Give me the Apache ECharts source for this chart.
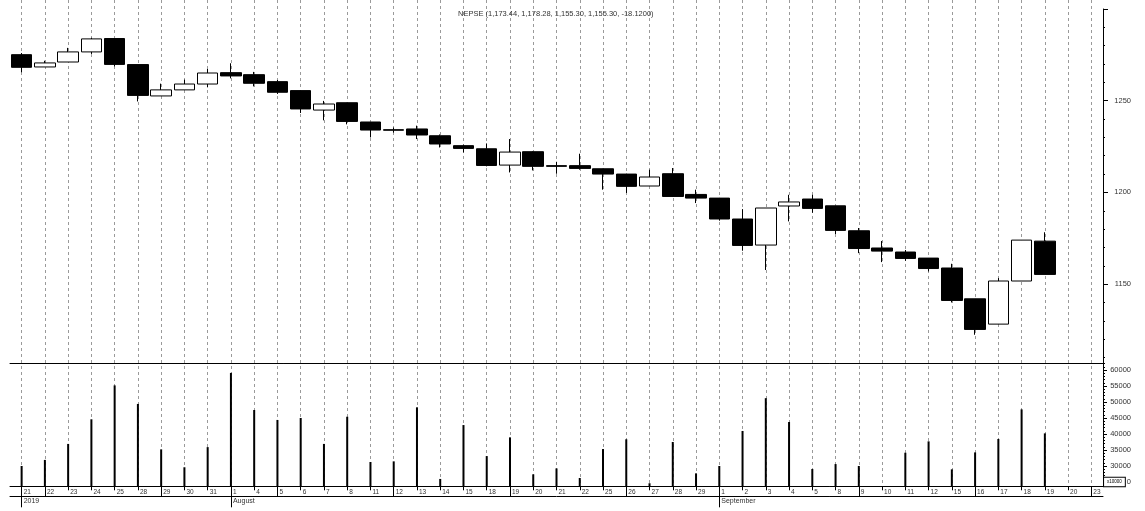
<!DOCTYPE html>
<html>
<head>
<meta charset="utf-8">
<style>
html,body{margin:0;padding:0;background:#fff;}
#chart{width:1145px;height:511px;}
</style>
<script src="https://cdn.jsdelivr.net/npm/echarts@6/dist/echarts.min.js"></script>
</head>
<body>
<div id="chart"></div>
<script>
const dates = ['2019-07-21','2019-07-22','2019-07-23','2019-07-24','2019-07-25','2019-07-28','2019-07-29','2019-07-30','2019-07-31',
  '2019-08-01','2019-08-04','2019-08-05','2019-08-06','2019-08-07','2019-08-08','2019-08-11','2019-08-12','2019-08-13','2019-08-14','2019-08-15',
  '2019-08-18','2019-08-19','2019-08-20','2019-08-21','2019-08-22','2019-08-25','2019-08-26','2019-08-27','2019-08-28','2019-08-29',
  '2019-09-01','2019-09-02','2019-09-03','2019-09-04','2019-09-05','2019-09-08','2019-09-09','2019-09-10','2019-09-11','2019-09-12',
  '2019-09-15','2019-09-16','2019-09-17','2019-09-18','2019-09-19','2019-09-20','2019-09-23'];
const dayLabels = ['21','22','23','24','25','28','29','30','31','1','4','5','6','7','8','11','12','13','14','15','18','19','20','21','22','25','26','27','28','29','1','2','3','4','5','8','9','10','11','12','15','16','17','18','19','20','23'];
const weekStarts = [1,6,11,16,21,26,36,41,46];
const monthStarts = [0,9,30];
const monthLabels = ['2019','August','September'];

const open  = [1275.1,1268.4,1271.1,1276.6,1283.9,1269.7,1252.6,1255.9,1259.1,1265.3,1264.2,1260.4,1255.5,1244.9,1248.9,1238.4,1234.2,1234.6,1230.9,1225.5,1223.8,1214.9,1222.2,1214.6,1214.6,1212.9,1210.0,1203.5,1210.2,1198.9,1196.9,1185.5,1171.3,1192.6,1196.4,1192.7,1179.1,1169.7,1167.5,1164.2,1158.8,1142.0,1128.2,1151.7,1173.44];
const close = [1268.2,1270.6,1276.6,1283.7,1269.8,1252.9,1255.9,1259.1,1265.1,1263.5,1259.5,1254.6,1245.5,1248.2,1238.7,1234.0,1233.9,1231.3,1226.4,1224.0,1214.7,1222.0,1214.2,1214.2,1213.1,1210.0,1203.3,1208.4,1197.8,1196.9,1185.5,1171.1,1191.5,1194.8,1191.3,1179.3,1169.4,1168.0,1164.0,1158.5,1141.1,1125.3,1151.7,1174.0,1155.30];
const high  = [1276.0,1271.8,1278.8,1284.3,1284.0,1269.7,1259.3,1261.5,1267.3,1270.4,1265.7,1261.3,1255.5,1249.9,1249.0,1238.4,1235.4,1236.4,1231.6,1226.0,1226.7,1229.1,1222.5,1216.7,1221.1,1213.0,1210.2,1212.4,1213.3,1201.5,1197.0,1190.9,1191.5,1198.7,1198.7,1192.7,1180.6,1173.5,1168.6,1164.2,1161.1,1142.0,1153.3,1174.0,1178.28];
const low   = [1265.5,1268.4,1271.1,1275.5,1268.7,1249.6,1252.6,1255.9,1257.3,1262.2,1257.8,1253.7,1243.3,1239.3,1237.1,1230.0,1232.6,1229.1,1224.5,1221.8,1214.2,1210.9,1212.0,1210.2,1212.4,1201.5,1199.7,1203.5,1197.6,1194.2,1184.6,1168.2,1157.7,1184.2,1188.9,1177.3,1166.9,1162.0,1162.7,1156.9,1140.0,1122.4,1128.2,1151.7,1155.30];
const volume = [30000,31900,36900,44600,55200,49400,35200,29600,35900,59100,47500,44400,45000,36900,45400,31250,31450,48350,25950,42800,33100,38950,27400,29250,26250,35300,38350,24600,37500,27700,30000,40950,51200,43750,29050,30600,30000,null,34150,37700,28950,34250,38450,47700,40200,null,null];

const priceLabels = [1150,1200,1250];
const priceMajorTicks = [1150,1200,1250,1300];
const priceMinorTicks = [1110,1120,1130,1140,1160,1170,1180,1190,1210,1220,1230,1240,1260,1270,1280,1290];
const volLabels = [25000,30000,35000,40000,45000,50000,55000,60000];
const volMinorTicks = [24000,26000,27000,28000,29000,31000,32000,33000,34000,36000,37000,38000,39000,41000,42000,43000,44000,46000,47000,48000,49000,51000,52000,53000,54000,56000,57000,58000,59000,61000,62000];
const volMultiplier = 'x10000';
const titleText = 'NEPSE (1,173.44, 1,178.28, 1,155.30, 1,155.30, -18.1200)';

const candleData = dates.map((d, i) => i < open.length ? [open[i], close[i], low[i], high[i]] : '-');

const FONT = 'Liberation Sans, Arial, sans-serif';
const TXT = '#333';
const gridBase = {left: 10, right: 42, outerBoundsMode: 'none', containLabel: false};

const chart = echarts.init(document.getElementById('chart'), null, {renderer: 'canvas'});
chart.setOption({
  animation: false,
  backgroundColor: '#fff',
  title: {
    text: titleText, left: 458, top: 10, padding: 0,
    textStyle: {fontSize: 7.5, fontWeight: 'normal', color: TXT, fontFamily: FONT}
  },
  grid: [
    Object.assign({}, gridBase, {top: 9, height: 354}),
    Object.assign({}, gridBase, {top: 363, height: 123.3}),
    {left: 21.6, right: 53.6, top: 0, bottom: 25, outerBoundsMode: 'none', containLabel: false}
  ],
  xAxis: [
    {type: 'category', gridIndex: 0, data: dates, boundaryGap: true,
     axisLine: {show: true, lineStyle: {color: '#000', width: 1}},
     axisTick: {show: false}, axisLabel: {show: false}, splitLine: {show: false}},
    {type: 'category', gridIndex: 1, data: dates, boundaryGap: true, position: 'bottom',
     axisLine: {show: true, lineStyle: {color: '#000', width: 1}},
     axisTick: {show: true, alignWithLabel: true, interval: 0, length: 4, lineStyle: {color: '#000'}},
     axisLabel: {show: true, interval: 0, margin: 2, align: 'left', padding: [0,0,0,2],
       fontSize: 6.5, color: TXT, fontFamily: FONT,
       formatter: (v, i) => dayLabels[i]},
     splitLine: {show: false}},
    {type: 'category', gridIndex: 1, data: dates, boundaryGap: true, position: 'bottom',
     axisLine: {show: false},
     axisTick: {show: true, alignWithLabel: true, length: 10, lineStyle: {color: '#000'},
       interval: (i) => weekStarts.indexOf(i) >= 0},
     axisLabel: {show: false}, splitLine: {show: false}},
    {type: 'category', gridIndex: 1, data: dates, boundaryGap: true, position: 'bottom',
     axisLine: {show: false},
     axisTick: {show: true, alignWithLabel: true, length: 21, lineStyle: {color: '#000'},
       interval: (i) => monthStarts.indexOf(i) >= 0},
     axisLabel: {show: true, margin: 11, align: 'left', padding: [0,0,0,2],
       fontSize: 7, color: TXT, fontFamily: FONT,
       interval: (i) => monthStarts.indexOf(i) >= 0,
       formatter: (v, i) => monthLabels[monthStarts.indexOf(i)]},
     splitLine: {show: false}},
    {type: 'category', gridIndex: 1, data: dates, boundaryGap: true, position: 'bottom', offset: 10,
     axisLine: {show: true, lineStyle: {color: '#000', width: 1}},
     axisTick: {show: false}, axisLabel: {show: false}, splitLine: {show: false}},
    {type: 'category', gridIndex: 2, data: dates, boundaryGap: false,
     axisLine: {show: false}, axisTick: {show: false}, axisLabel: {show: false},
     splitLine: {show: true, interval: 0, lineStyle: {color: '#9a9a9a', width: 1, type: [3, 3]}}}
  ],
  yAxis: [
    {type: 'value', gridIndex: 0, position: 'right', min: 1107, max: 1300, scale: true,
     axisLine: {show: true, lineStyle: {color: '#000', width: 1}},
     axisTick: {show: true, length: 5, customValues: priceMajorTicks, lineStyle: {color: '#000'}},
     axisLabel: {show: true, customValues: priceLabels, margin: 28, align: 'right', fontSize: 7.5, color: TXT, fontFamily: FONT,
       formatter: (v) => String(v)},
     splitLine: {show: false}},
    {type: 'value', gridIndex: 0, position: 'right', min: 1107, max: 1300, scale: true,
     axisLine: {show: false},
     axisTick: {show: true, length: 2, customValues: priceMinorTicks, lineStyle: {color: '#000'}},
     axisLabel: {show: false}, splitLine: {show: false}},
    {type: 'value', gridIndex: 1, position: 'right', min: 23650, max: 62200, scale: true,
     axisLine: {show: true, lineStyle: {color: '#000', width: 1}},
     axisTick: {show: true, length: 4, customValues: volLabels, lineStyle: {color: '#000'}},
     axisLabel: {show: true, customValues: volLabels, margin: 28, align: 'right', fontSize: 7.5, color: TXT, fontFamily: FONT,
       formatter: (v) => v === volLabels[0] ? '{box|' + volMultiplier + '}{n|0}' : String(v),
       rich: {
         box: {fontSize: 4.5, lineHeight: 5, color: '#000', borderColor: '#000', borderWidth: 1, padding: [2, 3, 1.5, 3], backgroundColor: '#fff', fontFamily: FONT},
         n: {fontSize: 7.5, color: TXT, fontFamily: FONT, padding: [0, 0, 0, 2]}
       }},
     splitLine: {show: false}},
    {type: 'value', gridIndex: 1, position: 'right', min: 23650, max: 62200, scale: true,
     axisLine: {show: false},
     axisTick: {show: true, length: 2, customValues: volMinorTicks, lineStyle: {color: '#000'}},
     axisLabel: {show: false}, splitLine: {show: false}},
    {type: 'value', gridIndex: 2, min: 0, max: 1, show: false}
  ],
  series: [
    {type: 'candlestick', name: 'NEPSE', xAxisIndex: 0, yAxisIndex: 0, data: candleData, barWidth: 21,
     itemStyle: {color: '#fff', color0: '#000', borderColor: '#000', borderColor0: '#000', borderWidth: 1}},
    {type: 'bar', name: 'Volume', xAxisIndex: 1, yAxisIndex: 2, data: volume, barWidth: 2,
     itemStyle: {color: '#000'}}
  ]
});
</script>
</body>
</html>
